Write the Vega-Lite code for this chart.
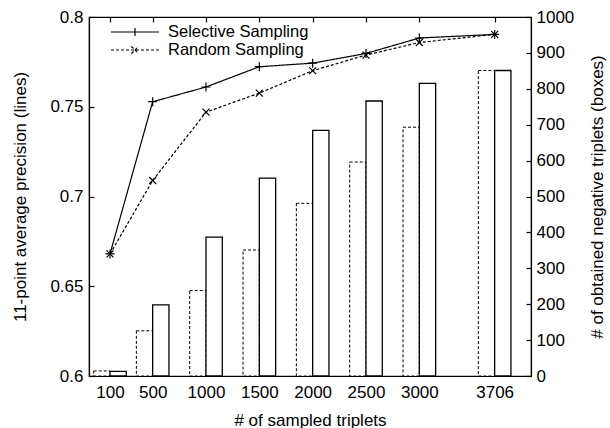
{
  "$schema": "https://vega.github.io/schema/vega-lite/v6.json",
  "width": 442,
  "height": 359,
  "autosize": {"type": "none"},
  "padding": {"left": 89, "top": 17, "right": 79, "bottom": 52},
  "background": "white",
  "data": {
    "values": [
      {"triplets": 100, "method": "Selective Sampling", "precision": 0.668, "negatives": 13},
      {"triplets": 500, "method": "Selective Sampling", "precision": 0.7528, "negatives": 198},
      {"triplets": 1000, "method": "Selective Sampling", "precision": 0.761, "negatives": 387},
      {"triplets": 1500, "method": "Selective Sampling", "precision": 0.7723, "negatives": 551},
      {"triplets": 2000, "method": "Selective Sampling", "precision": 0.7743, "negatives": 684},
      {"triplets": 2500, "method": "Selective Sampling", "precision": 0.7797, "negatives": 766},
      {"triplets": 3000, "method": "Selective Sampling", "precision": 0.7883, "negatives": 815},
      {"triplets": 3706, "method": "Selective Sampling", "precision": 0.7903, "negatives": 851},
      {"triplets": 100, "method": "Random Sampling", "precision": 0.668, "negatives": 14},
      {"triplets": 500, "method": "Random Sampling", "precision": 0.7089, "negatives": 126},
      {"triplets": 1000, "method": "Random Sampling", "precision": 0.747, "negatives": 238},
      {"triplets": 1500, "method": "Random Sampling", "precision": 0.7576, "negatives": 351},
      {"triplets": 2000, "method": "Random Sampling", "precision": 0.7701, "negatives": 481},
      {"triplets": 2500, "method": "Random Sampling", "precision": 0.7788, "negatives": 596},
      {"triplets": 3000, "method": "Random Sampling", "precision": 0.7858, "negatives": 693},
      {"triplets": 3706, "method": "Random Sampling", "precision": 0.7903, "negatives": 851}
    ]
  },
  "layer": [
    {
      "encoding": {
        "x": {
          "field": "triplets", "type": "quantitative",
          "scale": {"domain": [-50, 4000], "nice": false, "zero": false},
          "axis": {"orient": "bottom", "values": [100, 500, 1000, 1500, 2000, 2500, 3000, 3706], "format": "d", "title": "# of sampled triplets", "labelPadding": 13, "titlePadding": 12}
        },
        "y": {
          "field": "negatives", "type": "quantitative",
          "scale": {"domain": [0, 1000], "nice": false},
          "axis": {"orient": "right", "values": [0, 100, 200, 300, 400, 500, 600, 700, 800, 900, 1000], "format": "d", "title": "# of obtained negative triplets (boxes)", "titleAngle": -90, "labelPadding": 10, "titlePadding": 33}
        }
      },
      "layer": [
        {
          "transform": [{"filter": "datum.method === 'Random Sampling'"}],
          "mark": {"type": "bar", "width": 16.3, "xOffset": -8.15, "fill": "white", "stroke": "black", "strokeWidth": 1, "strokeDash": [3, 2], "clip": true}
        },
        {
          "transform": [{"filter": "datum.method === 'Selective Sampling'"}],
          "mark": {"type": "bar", "width": 16.3, "xOffset": 8.15, "fill": "white", "stroke": "black", "strokeWidth": 1.3, "clip": true}
        }
      ]
    },
    {
      "encoding": {
        "x": {
          "field": "triplets", "type": "quantitative",
          "scale": {"domain": [-50, 4000], "nice": false, "zero": false},
          "axis": {"orient": "top", "values": [100, 500, 1000, 1500, 2000, 2500, 3000, 3706], "labels": false, "title": null}
        },
        "y": {
          "field": "precision", "type": "quantitative",
          "scale": {"domain": [0.6, 0.8], "nice": false, "zero": false},
          "axis": {"orient": "left", "values": [0.6, 0.65, 0.7, 0.75, 0.8], "format": "~g", "title": "11-point average precision (lines)", "labelPadding": 11, "titlePadding": 20}
        }
      },
      "layer": [
        {
          "mark": {"type": "line", "color": "black", "strokeWidth": 1.2},
          "encoding": {
            "strokeDash": {
              "field": "method", "type": "nominal",
              "scale": {"domain": ["Selective Sampling", "Random Sampling"], "range": [[1, 0], [3, 2]]},
              "legend": {
                "orient": "none", "legendX": 37, "legendY": 6, "title": null, "padding": 0,
                "labelFontSize": 16.5, "labelOffset": 24, "symbolSize": 256, "rowPadding": 0,
                "symbolStrokeColor": "black", "symbolStrokeWidth": 1.2,
                "encode": {
                  "symbols": {
                    "update": {
                      "shape": {"signal": "datum.value === 'Selective Sampling' ? 'M-3,0H3M0,-0.5V0.5' : 'M-3,0H3M-0.45,-0.45L0.45,0.45M-0.45,0.45L0.45,-0.45'"},
                      "fill": {"value": "transparent"},
                      "stroke": {"value": "black"}
                    }
                  }
                }
              }
            }
          }
        },
        {
          "transform": [{"filter": "datum.method === 'Selective Sampling'"}],
          "mark": {"type": "point", "shape": "M-1,0H1M0,-1V1", "size": 81, "filled": false, "stroke": "black", "strokeWidth": 1.2, "opacity": 1}
        },
        {
          "transform": [{"filter": "datum.method === 'Random Sampling'"}],
          "mark": {"type": "point", "shape": "M-1,-1L1,1M-1,1L1,-1", "size": 49, "filled": false, "stroke": "black", "strokeWidth": 1.2, "opacity": 1}
        }
      ]
    }
  ],
  "resolve": {"scale": {"y": "independent"}, "axis": {"x": "independent"}},
  "config": {
    "font": "Liberation Sans",
    "view": {"stroke": "black", "strokeWidth": 1.2},
    "axis": {
      "grid": false,
      "domainColor": "black", "domainWidth": 1.2,
      "tickColor": "black", "tickWidth": 1.2, "tickSize": -5,
      "labelColor": "black", "labelFontSize": 17, "labelFont": "Liberation Sans",
      "titleColor": "black", "titleFontSize": 17, "titleFontWeight": "normal", "titleFont": "Liberation Sans"
    },
    "legend": {"labelColor": "black", "labelFont": "Liberation Sans"}
  }
}
